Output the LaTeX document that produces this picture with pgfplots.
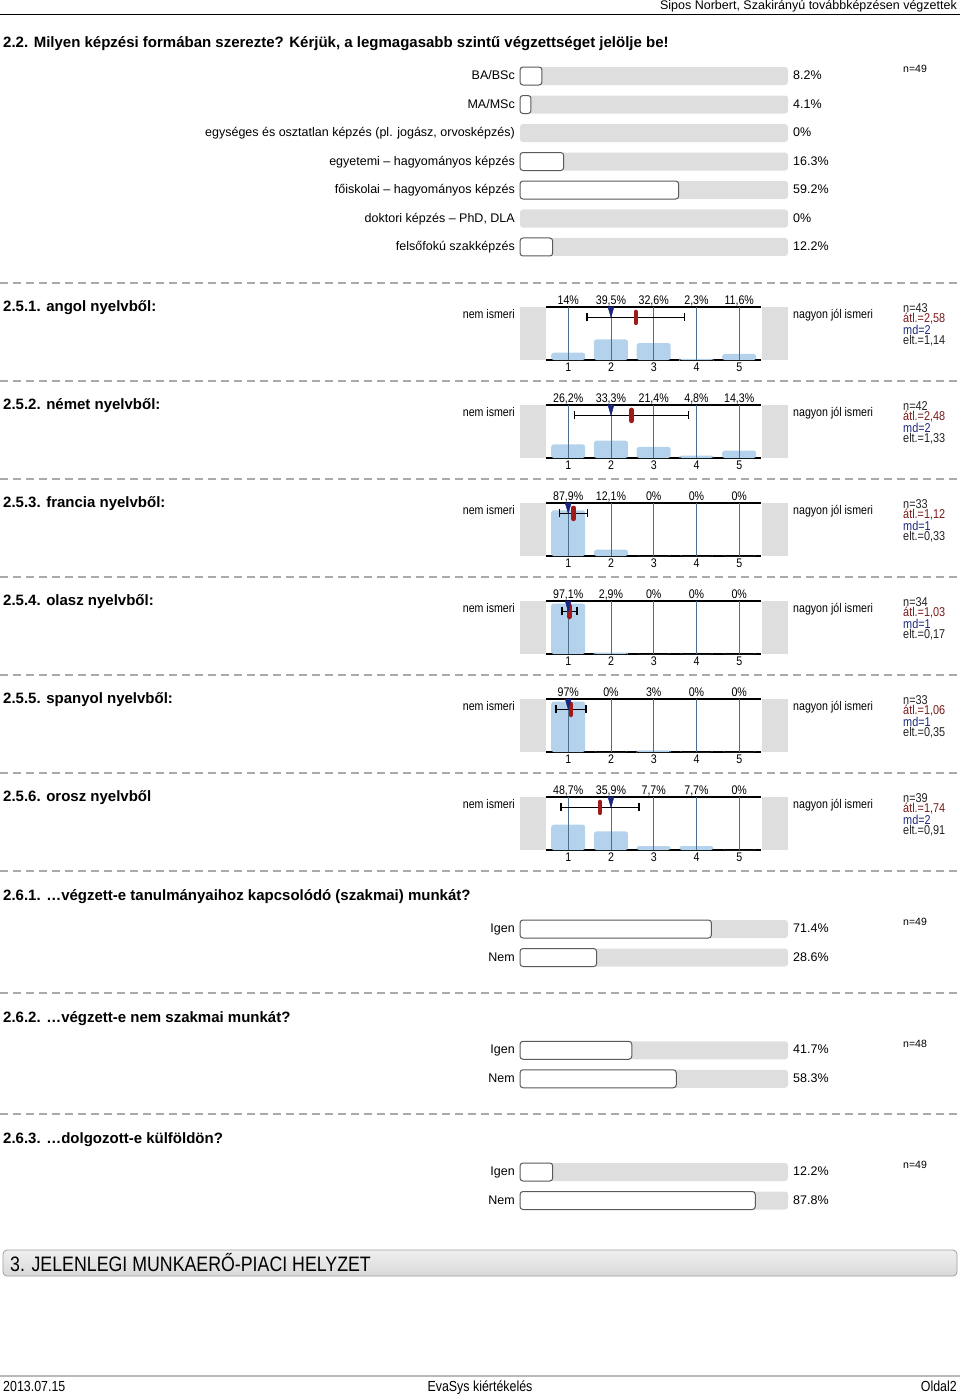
\documentclass[border=0pt]{standalone}
\usepackage{pgfplots}
\pgfplotsset{compat=1.18}
\usepackage{fontspec}
\setmainfont{Liberation Sans}
\newfontfamily\nar[FakeStretch=0.85]{Liberation Sans}
\definecolor{trackgray}{HTML}{DEDEDE}
\definecolor{sidegray}{HTML}{DEDEDE}
\definecolor{barborder}{HTML}{5A5A5A}
\definecolor{barblue}{HTML}{B4D2EC}
\definecolor{gridblue}{HTML}{4D6D8C}
\definecolor{meanred}{HTML}{A01A1A}
\definecolor{atlred}{HTML}{7A1A1A}
\definecolor{mednavy}{HTML}{1A2580}
\definecolor{statgray}{HTML}{222222}
\definecolor{dashgray}{HTML}{AAAAAA}

\newcommand{\titlefont}{\bfseries\fontsize{15}{18}\selectfont}
\newcommand{\labfont}{\fontsize{12.5}{15}\selectfont}
\newcommand{\nfont}{\fontsize{10.5}{12}\selectfont}
\newcommand{\nsmall}{\nar\fontsize{12.5}{14}\selectfont}
\newcommand{\nstat}{\nar\fontsize{12.8}{13}\selectfont}
\newcommand{\footfont}{\nar\fontsize{14.6}{16}\selectfont}

\tikzset{
  vallab/.style={anchor=west, inner sep=0pt, xshift=5pt, font=\labfont, text height=0.72em, text depth=0pt},
  pctlab/.style={anchor=base, inner sep=0pt, yshift=3pt, font=\nsmall},
  flab/.style={anchor=base west, inner sep=0pt, font=\nsmall},
  frab/.style={anchor=base east, inner sep=0pt, font=\nsmall},
}
\pgfplotsset{
  hbar/.style={anchor=north west, scale only axis, width=268pt,
    xmin=0, xmax=100, y dir=reverse, clip=false,
    axis line style={draw=none}, major tick length=0pt,
    xtick=\empty, yticklabel style={font=\labfont, inner sep=0pt, xshift=-5pt, text height=0.72em, text depth=0pt}},
  track/.style={xbar, bar shift=0pt, bar width=18pt, fill=trackgray, draw=none, rounded corners=3pt},
  share/.style={xbar, bar shift=0pt, bar width=18pt, fill=white, draw=barborder, line width=1pt, rounded corners=3pt, restrict x to domain=0.01:100},
  likert/.style={anchor=north west, scale only axis, width=215pt, height=53pt,
    xmin=0.48, xmax=5.51, ymin=0, ymax=102, clip=false,
    axis x line=box, axis y line=none,
    axis line style={line width=1.3pt, black},
    xtick={1,2,3,4,5}, ytick=\empty, major tick length=0pt,
    /pgf/number format/assume math mode=true,
    xticklabel style={font=\nsmall, inner sep=0pt, yshift=-3pt}},
  lbar/.style={ybar, bar shift=0pt, bar width=34pt, fill=barblue, draw=none, rounded corners=2.5pt},
  lmean/.style={only marks, mark=|, mark size=5.5pt, mark options={meanred, line width=4.5pt, line cap=round}},
  lmed/.style={only marks, mark=triangle*, mark size=7pt, mark options={mednavy, rotate=180, xscale=0.5}},
  lerr/.style={mark=none, black, line width=1.5pt, error bars/.cd, x dir=both, x explicit,
    error bar style={black, line width=1.5pt}, error mark options={black, line width=1.5pt, mark size=4pt, rotate=90}},
}

\newcommand{\pcts}[5]{%
  \node[pctlab] at (axis cs:1,102) {#1};
  \node[pctlab] at (axis cs:2,102) {#2};
  \node[pctlab] at (axis cs:3,102) {#3};
  \node[pctlab] at (axis cs:4,102) {#4};
  \node[pctlab] at (axis cs:5,102) {#5};}
\newcommand{\vgrid}{%
  \draw[gridblue, line width=0.9pt] (axis cs:1,0) -- (axis cs:1,102);
  \draw[gridblue, line width=0.9pt] (axis cs:2,0) -- (axis cs:2,102);
  \draw[gridblue, line width=0.9pt] (axis cs:3,0) -- (axis cs:3,102);
  \draw[gridblue, line width=0.9pt] (axis cs:4,0) -- (axis cs:4,102);
  \draw[gridblue, line width=0.9pt] (axis cs:5,0) -- (axis cs:5,102);}

\newcommand{\likertdecor}[6]{%
\begin{scope}[yshift=-#1pt]
  \fill[sidegray] (520pt,0pt) rectangle (546pt,-53pt);
  \fill[sidegray] (762pt,0pt) rectangle (788pt,-53pt);
  \node[anchor=west, inner sep=0pt, font=\titlefont] at (3pt,-1pt) {#2};
  \node[frab] at (515pt,-11pt) {nem ismeri};
  \node[flab] at (793pt,-11pt) {nagyon jól ismeri};
  \node[anchor=west, inner sep=0pt, font=\nstat, text=statgray] at (903pt,-1pt) {n=#3};
  \node[anchor=west, inner sep=0pt, font=\nstat, text=atlred] at (903pt,-12pt) {átl.=#4};
  \node[anchor=west, inner sep=0pt, font=\nstat, text=mednavy] at (903pt,-23pt) {md=#5};
  \node[anchor=west, inner sep=0pt, font=\nstat, text=statgray] at (903pt,-34pt) {elt.=#6};
\end{scope}}

\newcommand{\sep}[1]{\draw[dashgray, line width=1.2pt, dash pattern=on 8pt off 5pt] (0pt,-#1pt) -- (960pt,-#1pt);}

\begin{document}
\begin{tikzpicture}
\path[use as bounding box] (0pt,0pt) rectangle (960pt,-1395pt);

% header
\node[anchor=east, inner sep=0pt, font=\labfont] at (957pt,-6pt) {Sipos Norbert, Szakirányú továbbképzésen végzettek};
\draw[line width=0.8pt] (0pt,-14pt) -- (960pt,-14pt);

% 2.2
\node[anchor=west, inner sep=0pt, font=\titlefont] at (3pt,-44pt) {2.2. Milyen képzési formában szerezte? Kérjük, a legmagasabb szintű végzettséget jelölje be!};
\node[anchor=west, inner sep=0pt, font=\nfont] at (903pt,-69pt) {n=49};
\begin{axis}[hbar, at={(520pt,-61.75pt)}, height=199.5pt, ymin=-0.5, ymax=6.5,
  ytick={0,1,2,3,4,5,6},
  yticklabels={BA/BSc, MA/MSc, {egységes és osztatlan képzés (pl. jogász, orvosképzés)}, {egyetemi – hagyományos képzés}, {főiskolai – hagyományos képzés}, {doktori képzés – PhD, DLA}, {felsőfokú szakképzés}}]
\addplot[track] coordinates {(100,0) (100,1) (100,2) (100,3) (100,4) (100,5) (100,6)};
\addplot[share] coordinates {(8.2,0) (4.1,1) (0,2) (16.3,3) (59.2,4) (0,5) (12.2,6)};
\node[vallab] at (axis cs:100,0) {8.2\%};
\node[vallab] at (axis cs:100,1) {4.1\%};
\node[vallab] at (axis cs:100,2) {0\%};
\node[vallab] at (axis cs:100,3) {16.3\%};
\node[vallab] at (axis cs:100,4) {59.2\%};
\node[vallab] at (axis cs:100,5) {0\%};
\node[vallab] at (axis cs:100,6) {12.2\%};
\end{axis}

\sep{283}\sep{381}\sep{479}\sep{577}\sep{675}\sep{773}\sep{871}\sep{993}\sep{1114}

% 2.5.1
\likertdecor{307}{2.5.1. angol nyelvből:}{43}{2,58}{2}{1,14}
\begin{axis}[likert, at={(546pt,-307pt)}]
\addplot[lbar] coordinates {(1,14) (2,39.5) (3,32.6) (4,2.3) (5,11.6)};
\vgrid
\addplot[lerr] coordinates {(2.58,82) +- (1.14,0)};
\addplot[lmean] coordinates {(2.58,82)};
\addplot[lmed] coordinates {(2,95.3)};
\pcts{14\%}{39,5\%}{32,6\%}{2,3\%}{11,6\%}
\end{axis}

% 2.5.2
\likertdecor{405}{2.5.2. német nyelvből:}{42}{2,48}{2}{1,33}
\begin{axis}[likert, at={(546pt,-405pt)}]
\addplot[lbar] coordinates {(1,26.2) (2,33.3) (3,21.4) (4,4.8) (5,14.3)};
\vgrid
\addplot[lerr] coordinates {(2.48,82) +- (1.33,0)};
\addplot[lmean] coordinates {(2.48,82)};
\addplot[lmed] coordinates {(2,95.3)};
\pcts{26,2\%}{33,3\%}{21,4\%}{4,8\%}{14,3\%}
\end{axis}

% 2.5.3
\likertdecor{503}{2.5.3. francia nyelvből:}{33}{1,12}{1}{0,33}
\begin{axis}[likert, at={(546pt,-503pt)}]
\addplot[lbar] coordinates {(1,87.9) (2,12.1) (3,0) (4,0) (5,0)};
\vgrid
\addplot[lerr] coordinates {(1.12,82) +- (0.33,0)};
\addplot[lmean] coordinates {(1.12,82)};
\addplot[lmed] coordinates {(1,95.3)};
\pcts{87,9\%}{12,1\%}{0\%}{0\%}{0\%}
\end{axis}

% 2.5.4
\likertdecor{601}{2.5.4. olasz nyelvből:}{34}{1,03}{1}{0,17}
\begin{axis}[likert, at={(546pt,-601pt)}]
\addplot[lbar] coordinates {(1,97.1) (2,2.9) (3,0) (4,0) (5,0)};
\vgrid
\addplot[lerr] coordinates {(1.03,82) +- (0.17,0)};
\addplot[lmean] coordinates {(1.03,82)};
\addplot[lmed] coordinates {(1,95.3)};
\pcts{97,1\%}{2,9\%}{0\%}{0\%}{0\%}
\end{axis}

% 2.5.5
\likertdecor{699}{2.5.5. spanyol nyelvből:}{33}{1,06}{1}{0,35}
\begin{axis}[likert, at={(546pt,-699pt)}]
\addplot[lbar] coordinates {(1,97) (2,0) (3,3) (4,0) (5,0)};
\vgrid
\addplot[lerr] coordinates {(1.06,82) +- (0.35,0)};
\addplot[lmean] coordinates {(1.06,82)};
\addplot[lmed] coordinates {(1,95.3)};
\pcts{97\%}{0\%}{3\%}{0\%}{0\%}
\end{axis}

% 2.5.6
\likertdecor{797}{2.5.6. orosz nyelvből}{39}{1,74}{2}{0,91}
\begin{axis}[likert, at={(546pt,-797pt)}]
\addplot[lbar] coordinates {(1,48.7) (2,35.9) (3,7.7) (4,7.7) (5,0)};
\vgrid
\addplot[lerr] coordinates {(1.74,82) +- (0.91,0)};
\addplot[lmean] coordinates {(1.74,82)};
\addplot[lmed] coordinates {(2,95.3)};
\pcts{48,7\%}{35,9\%}{7,7\%}{7,7\%}{0\%}
\end{axis}

% 2.6.1
\node[anchor=west, inner sep=0pt, font=\titlefont] at (3pt,-897pt) {2.6.1. …végzett-e tanulmányaihoz kapcsolódó (szakmai) munkát?};
\node[anchor=west, inner sep=0pt, font=\nfont] at (903pt,-922pt) {n=49};
\begin{axis}[hbar, at={(520pt,-914.75pt)}, height=57pt, ymin=-0.5, ymax=1.5, ytick={0,1}, yticklabels={Igen,Nem}]
\addplot[track] coordinates {(100,0) (100,1)};
\addplot[share] coordinates {(71.4,0) (28.6,1)};
\node[vallab] at (axis cs:100,0) {71.4\%};
\node[vallab] at (axis cs:100,1) {28.6\%};
\end{axis}

% 2.6.2
\node[anchor=west, inner sep=0pt, font=\titlefont] at (3pt,-1019pt) {2.6.2. …végzett-e nem szakmai munkát?};
\node[anchor=west, inner sep=0pt, font=\nfont] at (903pt,-1044pt) {n=48};
\begin{axis}[hbar, at={(520pt,-1036pt)}, height=57pt, ymin=-0.5, ymax=1.5, ytick={0,1}, yticklabels={Igen,Nem}]
\addplot[track] coordinates {(100,0) (100,1)};
\addplot[share] coordinates {(41.7,0) (58.3,1)};
\node[vallab] at (axis cs:100,0) {41.7\%};
\node[vallab] at (axis cs:100,1) {58.3\%};
\end{axis}

% 2.6.3
\node[anchor=west, inner sep=0pt, font=\titlefont] at (3pt,-1140pt) {2.6.3. …dolgozott-e külföldön?};
\node[anchor=west, inner sep=0pt, font=\nfont] at (903pt,-1165pt) {n=49};
\begin{axis}[hbar, at={(520pt,-1157.75pt)}, height=57pt, ymin=-0.5, ymax=1.5, ytick={0,1}, yticklabels={Igen,Nem}]
\addplot[track] coordinates {(100,0) (100,1)};
\addplot[share] coordinates {(12.2,0) (87.8,1)};
\node[vallab] at (axis cs:100,0) {12.2\%};
\node[vallab] at (axis cs:100,1) {87.8\%};
\end{axis}

% banner
\draw[rounded corners=4pt, draw=gray!75, line width=0.8pt, top color=gray!12, bottom color=gray!30] (3pt,-1250pt) rectangle (957pt,-1276pt);
\node[anchor=west, inner sep=0pt, font=\nar\fontsize{20.9}{22}\selectfont] at (10pt,-1263pt) {3. JELENLEGI MUNKAERŐ-PIACI HELYZET};

% footer
\draw[line width=2.5pt, gray!55] (0pt,-1376pt) -- (960pt,-1376pt);
\node[anchor=base west, inner sep=0pt, font=\footfont] at (3pt,-1391pt) {2013.07.15};
\node[anchor=base, inner sep=0pt, font=\footfont] at (480pt,-1391pt) {EvaSys kiértékelés};
\node[anchor=base east, inner sep=0pt, font=\footfont] at (957pt,-1391pt) {Oldal2};
\end{tikzpicture}
\end{document}
